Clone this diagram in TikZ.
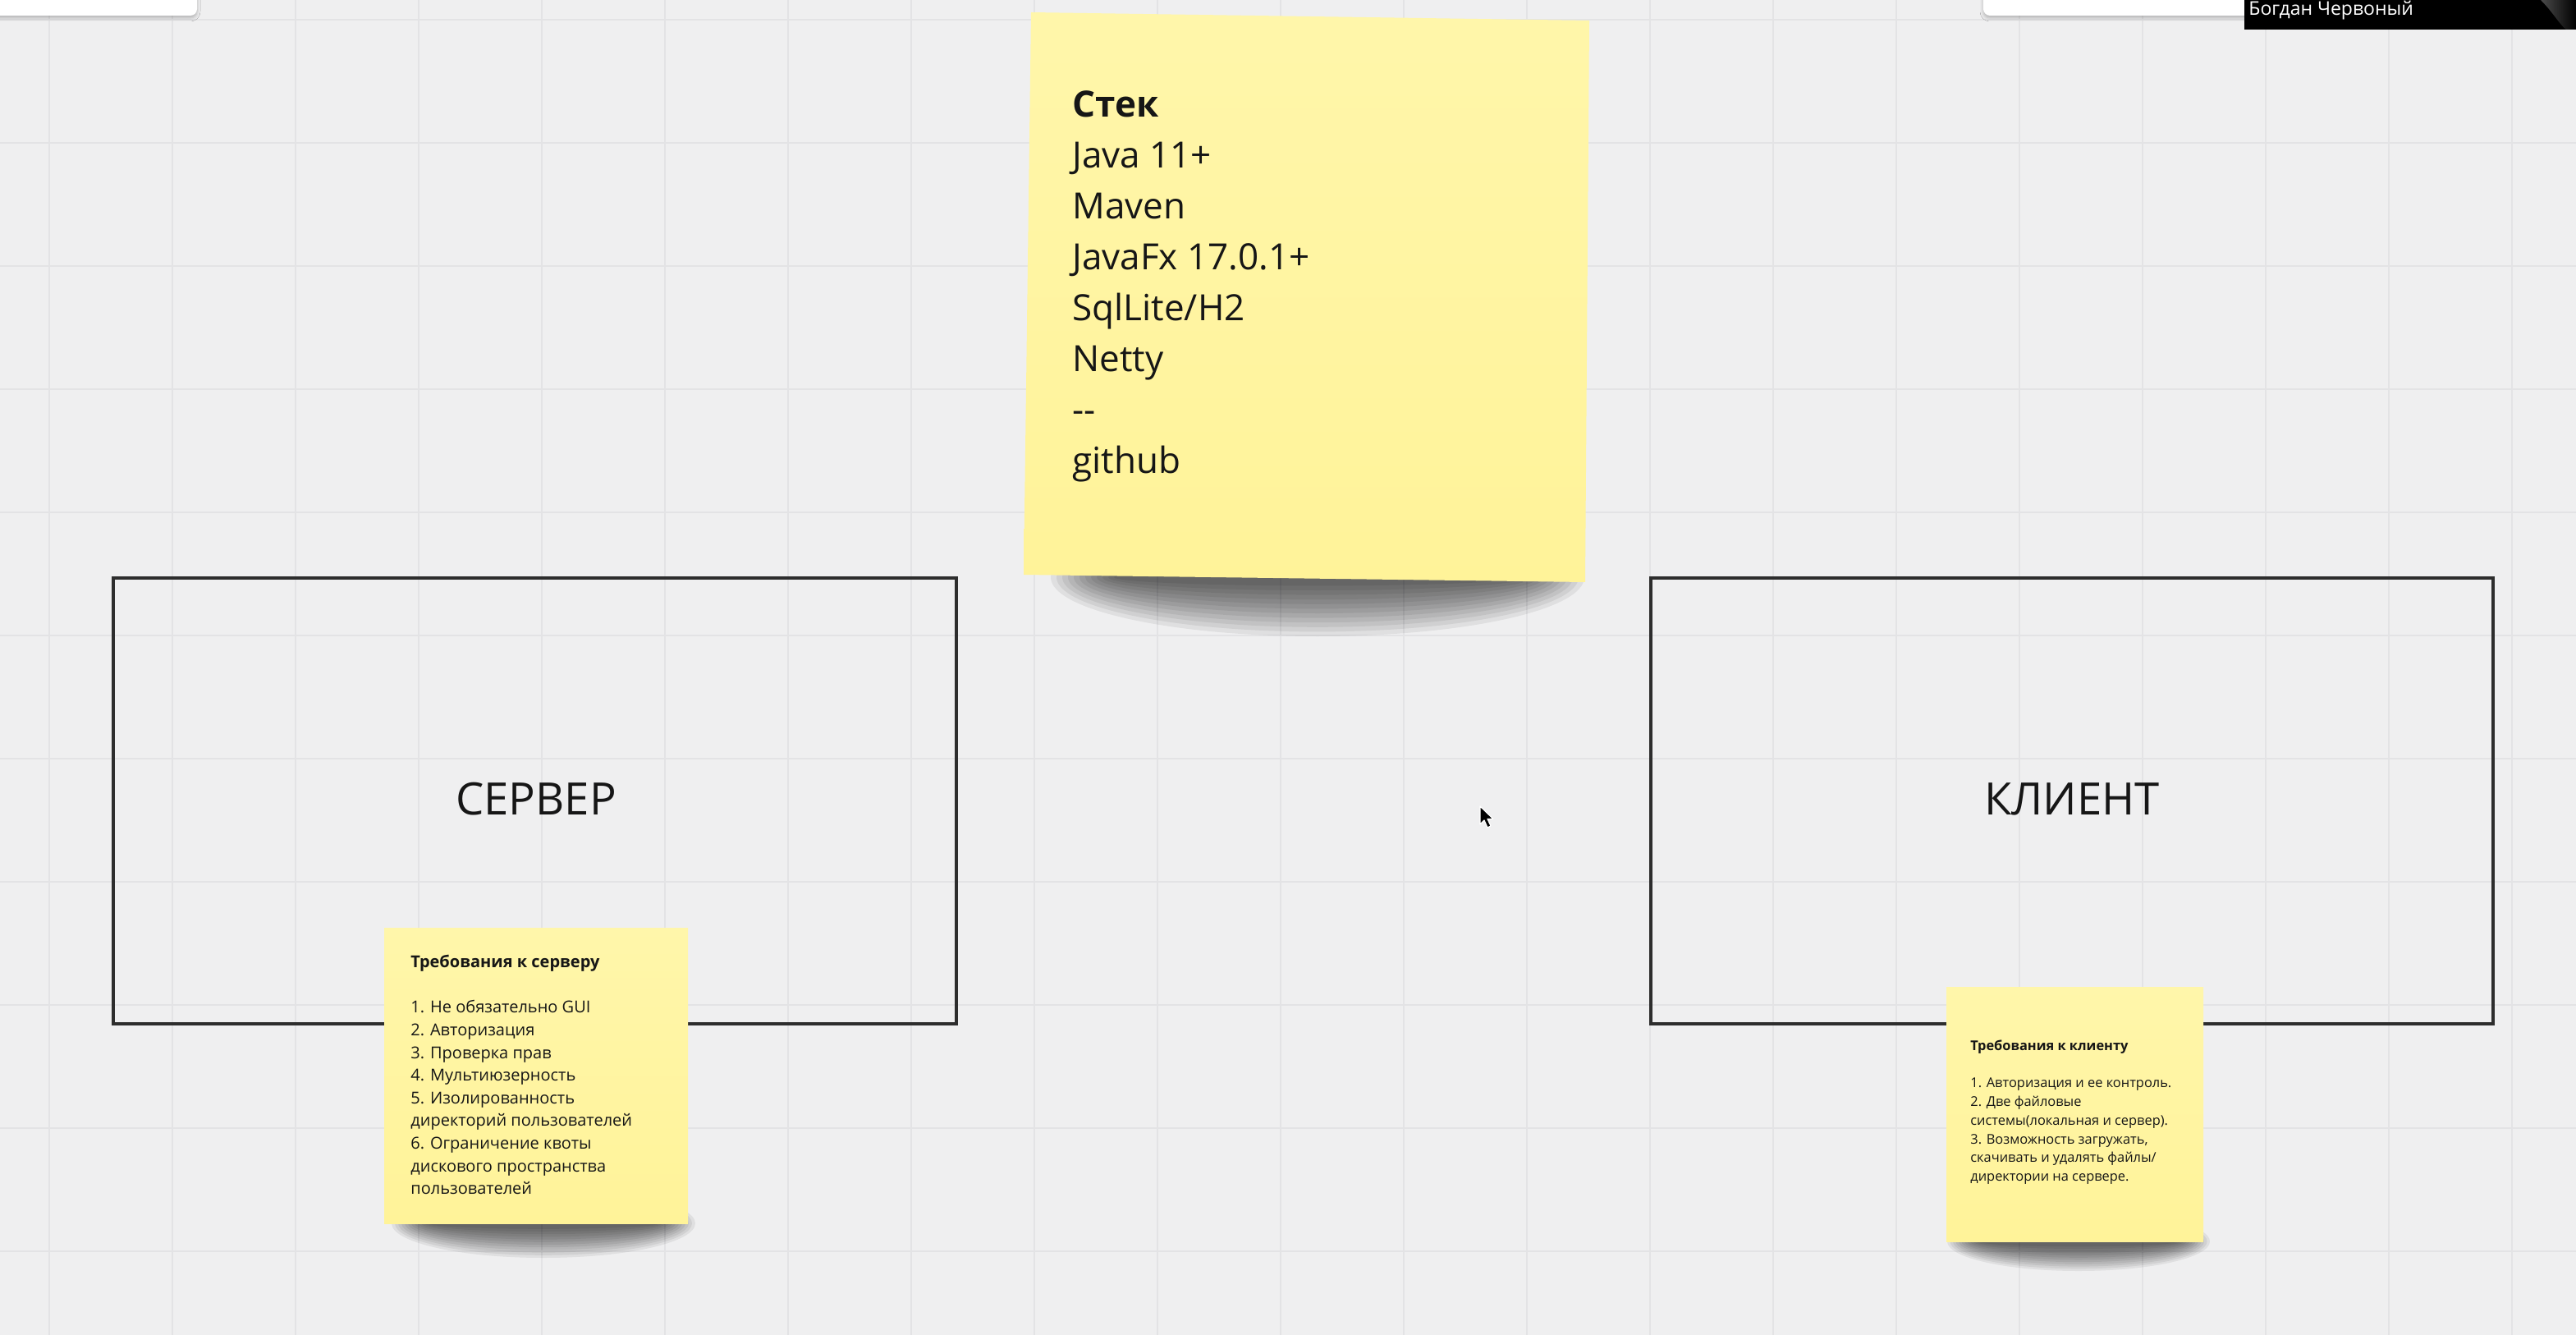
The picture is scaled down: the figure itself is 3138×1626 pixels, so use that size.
\documentclass[tikz,border=0pt]{standalone}
\usepackage{fontspec}
\setmainfont{Open Sans}
\usetikzlibrary{shadows.blur,fadings}
\definecolor{bg}{RGB}{239,239,240}
\definecolor{gridc}{RGB}{227,227,229}
\definecolor{stickyc}{RGB}{255,243,153}
\definecolor{stickytop}{RGB}{255,246,170}
\definecolor{ink}{RGB}{22,22,22}
\definecolor{framec}{RGB}{45,45,45}
\tikzset{
  framebox/.style={draw=framec, line width=1.8pt},
  bigtitle/.style={font=\fontsize{27.2pt}{31pt}\selectfont, text=ink, inner sep=0pt},
  notetext/.style={anchor=north west, inner sep=0pt, align=left, text=ink},
  stickyfill/.style={top color=stickytop, bottom color=stickyc},
  shadowlayer/.style={fill=black, opacity=0.065},
}
\begin{document}
\begin{tikzpicture}[x=0.5pt,y=-0.5pt]
\useasboundingbox (0,0) rectangle (3138,1626);
\fill[bg] (0,0) rectangle (3138,1626);
% grid
\foreach \gx in {60,210,...,3060} \draw[gridc, line width=1pt] (\gx,0) -- (\gx,1626);
\foreach \gy in {24,174,...,1524} \draw[gridc, line width=1pt] (0,\gy) -- (3138,\gy);

% top bars
\path[blur shadow={shadow xshift=0pt,shadow yshift=-1.5pt,shadow blur radius=2pt,shadow opacity=25}]
  [fill=white, rounded corners=4pt] (-20,-20) rectangle (240,19);
\path[blur shadow={shadow xshift=0pt,shadow yshift=-1.5pt,shadow blur radius=2pt,shadow opacity=25}]
  [fill=white, rounded corners=4pt] (2416,-20) rectangle (2760,19);
\fill[black] (2734,0) rectangle (3138,36);
\fill[black!70, path fading=east] (3095,0) .. controls (3110,15) and (3118,30) .. (3126,36) -- (3138,36) -- (3138,0) -- cycle;
\node[anchor=base west, inner sep=0pt, text=white, font=\fontsize{11.5pt}{13pt}\selectfont] (name) at (2739,19) {Богдан Червоный};

% frames
\draw[framebox] (138,704) rectangle (1165,1247);
\node[bigtitle] (server) at (653,973) {СЕРВЕР};
\draw[framebox] (2011,704) rectangle (3037,1247);
\node[bigtitle] (client) at (2524,973) {КЛИЕНТ};

% stack sticky
\foreach \i in {0,...,11}
  \fill[shadowlayer] (1605,703) ellipse ({325-7*\i} and {72-5.6*\i});
\shade[stickyfill] (1256,15) -- (1936,25) -- (1931,709) -- (1247,700) -- cycle;
\node[notetext, font=\fontsize{22pt}{31pt}\selectfont] (stack) at (1306,110)
  {\textbf{Стек}\\Java 11+\\Maven\\JavaFx 17.0.1+\\SqlLite/H2\\Netty\\-{}-\\github};

% server sticky
\foreach \i in {0,...,11}
  \fill[shadowlayer] (662,1490) ellipse ({185-4*\i} and {42-3.2*\i});
\shade[stickyfill] (468,1130) rectangle (838,1490);
\node[notetext, font=\fontsize{10pt}{13.8pt}\selectfont] (srvreq) at (500,1163)
  {\textbf{Требования к серверу}\\[13.8pt]1. Не обязательно GUI\\2. Авторизация\\3. Проверка прав\\4. Мультиюзерность\\5. Изолированность\\директорий пользователей\\6. Ограничение квоты\\дискового пространства\\пользователей};

% client sticky
\foreach \i in {0,...,11}
  \fill[shadowlayer] (2532,1512) ellipse ({160-3.5*\i} and {36-2.7*\i});
\shade[stickyfill] (2371,1202) rectangle (2684,1512);
\node[notetext, font=\fontsize{8.2pt}{11.4pt}\selectfont] (clireq) at (2400,1266)
  {\textbf{Требования к клиенту}\\[11.4pt]1. Авторизация и ее контроль.\\2. Две файловые\\системы(локальная и сервер).\\3. Возможность загружать,\\скачивать и удалять файлы/\\директории на сервере.};

% cursor
\fill[black, draw=white, line width=0.6pt, line join=round]
  (1803,982) -- ++(0,22) -- ++(5,-5) -- ++(4,9) -- ++(4,-2) -- ++(-4,-8.5) -- ++(7,0) -- cycle;
\end{tikzpicture}
\end{document}
